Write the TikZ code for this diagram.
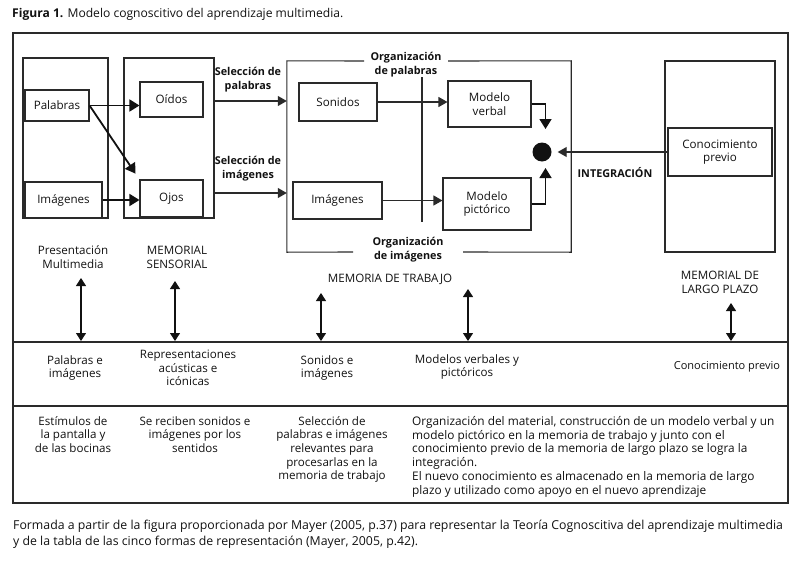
\documentclass[tikz,border=0pt]{standalone}
\usepackage{fontspec}
\setmainfont{Open Sans}
\usetikzlibrary{arrows.meta}
\definecolor{linec}{HTML}{2A2A2A}
\definecolor{txt}{HTML}{111111}
\begin{document}
\begin{tikzpicture}[x=1pt,y=-1pt,
  every node/.style={text=txt},
  box/.style={draw=linec, line width=1.1pt, inner sep=0pt, align=center, font=\fontsize{11.6}{13.5}\selectfont},
  lbl/.style={inner sep=0pt, align=center, font=\fontsize{11.6}{13.7}\selectfont},
  blbl/.style={lbl, font=\fontsize{10.8}{13.7}\selectfont\bfseries},
  thinline/.style={draw=linec, line width=1.1pt},
  thinarrow/.style={draw=linec, line width=1.1pt, -{Triangle[length=9pt,width=10pt]}},
  thickarrow/.style={draw=txt, line width=1.8pt, -{Triangle[length=10pt,width=12pt]}},
  dblarrow/.style={draw=txt, line width=1.1pt, {Triangle[length=8pt,width=10pt]}-{Triangle[length=8pt,width=10pt]}}
]
\useasboundingbox (0,0) rectangle (800,570);

% title
\node[anchor=base west, inner sep=0pt, font=\fontsize{12.1}{14}\selectfont] (title) at (12,17) {\textbf{Figura 1.} Modelo cognoscitivo del aprendizaje multimedia.};

% outer frame
\node[draw=linec, line width=1.7pt, minimum width=775pt, minimum height=470pt, inner sep=0pt] (frame) at (400.5,268) {};
\coordinate (h1) at (0,342);
\coordinate (h2) at (0,406);
\draw[thinline] (frame.west |- h1) -- (frame.east |- h1);
\draw[thinline] (frame.west |- h2) -- (frame.east |- h2);

% presentation multimedia
\node[box, minimum width=85pt, minimum height=160pt] (pm) at (65.5,138) {};
\node[box, minimum width=64pt, minimum height=31pt] (pal) at (57,105.5) {Palabras};
\node[box, minimum width=77pt, minimum height=36pt] (img1) at (63.5,200) {Imágenes};

% sensory memory
\node[box, minimum width=90pt, minimum height=160pt] (ms) at (169,138) {};
\node[box, minimum width=63pt, minimum height=35pt] (oid) at (171.5,99.5) {Oídos};
\node[box, minimum width=63pt, minimum height=37pt] (ojo) at (171.5,198.5) {Ojos};

\draw[thickarrow] (pal.east) -- (pal.east -| oid.west);
\draw[thickarrow, shorten >=7pt] (pal.east) -- (ojo.north west);
\draw[thickarrow] (img1.east) -- (img1.east -| ojo.west);

% working memory
\node[minimum width=284pt, minimum height=191pt, inner sep=0pt] (wm) at (429,156.5) {};
\draw[thinline] (364,61) -- (wm.north west) -- (wm.south west) -- (353,252);
\draw[thinline] (448,61) -- (wm.north east) -- (wm.south east) -- (463,252);
\node[blbl] (orgp) at (406,65) {Organización\\de palabras};
\node[blbl] (orgi) at (408,250) {Organización\\de imágenes};
\coordinate (vtop) at (422,77);
\coordinate (vbot) at (422,222);
\draw[thinline] (vtop) -- (vbot);

\node[box, minimum width=78pt, minimum height=38pt] (son) at (338,102) {Sonidos};
\node[box, minimum width=89pt, minimum height=37pt] (img2) at (337.5,200.5) {Imágenes};
\node[box, minimum width=83pt, minimum height=46pt] (mv) at (489.5,104) {Modelo\\verbal};
\node[box, minimum width=88pt, minimum height=52pt] (mp) at (487,204) {Modelo\\pictórico};
\draw[thinarrow] (son.east) -- (son.east -| mv.west);
\draw[thinarrow] (img2.east) -- (img2.east -| mp.west);

\node[circle, fill=txt, minimum size=19pt, inner sep=0pt] (dot) at (542,152) {};
\coordinate (vt) at (545.5,129);
\coordinate (pt) at (545.5,168);
\draw[thickarrow, line width=1.6pt] (mv.east) -| (vt);
\draw[thickarrow, line width=1.6pt] (mp.east) -| (pt);

% selection arrows
\node[blbl] (selp) at (248,80) {Selección de\\palabras};
\node[blbl] (seli) at (248,168.5) {Selección de\\imágenes};
\coordinate (s1a) at (215,101);
\coordinate (s2a) at (215,193);
\draw[thinarrow] (s1a) -- (s1a -| wm.west);
\draw[thinarrow] (s2a) -- (s2a -| wm.west);

% long-term memory
\node[box, minimum width=110pt, minimum height=191pt] (ltm) at (720,156.5) {};
\node[box, minimum width=104pt, minimum height=48pt] (cp) at (720,152) {Conocimiento\\previo};
\draw[thinarrow, shorten >=6pt] (cp.west) -- (dot.east);
\node[blbl] (integ) at (615,173) {INTEGRACIÓN};

% labels under boxes
\node[lbl] (lpm) at (73,257) {Presentación\\Multimedia};
\node[lbl] (lms) at (177,257) {MEMORIAL\\SENSORIAL};
\node[lbl] (lwm) at (390,279) {MEMORIA DE TRABAJO};
\node[lbl] (lltm) at (720,282) {MEMORIAL DE\\LARGO PLAZO};

% double arrows
\coordinate (a1t) at (81,278);  \coordinate (a1b) at (81,341);
\coordinate (a2t) at (175,281); \coordinate (a2b) at (175,341);
\coordinate (a3t) at (321,293); \coordinate (a3b) at (321,341);
\coordinate (a4t) at (468,289); \coordinate (a4b) at (468,341);
\coordinate (a5t) at (731,303); \coordinate (a5b) at (731,341);
\draw[dblarrow] (a1t) -- (a1b);
\draw[dblarrow] (a2t) -- (a2b);
\draw[dblarrow] (a3t) -- (a3b);
\draw[dblarrow] (a4t) -- (a4b);
\draw[dblarrow] (a5t) -- (a5b);

% row 2
\node[lbl] (r2a) at (75,368) {Palabras e\\imágenes};
\node[lbl] (r2b) at (188,368) {Representaciones\\acústicas e\\icónicas};
\node[lbl] (r2c) at (327,368) {Sonidos e\\imágenes};
\node[lbl] (r2d) at (467,367) {Modelos verbales y\\pictóricos};
\node[lbl, font=\fontsize{11}{13.7}\selectfont] (r2e) at (727,367) {Conocimiento previo};

% row 3
\node[lbl, anchor=north] (r3a) at (73,416) {Estímulos de\\la pantalla y\\de las bocinas};
\node[lbl, anchor=north] (r3b) at (195,416) {Se reciben sonidos e\\imágenes por los\\sentidos};
\node[lbl, anchor=north] (r3c) at (332,416) {Selección de\\palabras e imágenes\\relevantes para\\procesarlas en la\\memoria de trabajo};
\node[lbl, anchor=north west, align=left, font=\fontsize{11.85}{13.8}\selectfont] (r3d) at (412,416) {Organización del material, construcción de un modelo verbal y un\\modelo pictórico en la memoria de trabajo y junto con el\\conocimiento previo de la memoria de largo plazo se logra la\\integración.\\El nuevo conocimiento es almacenado en la memoria de largo\\plazo y utilizado como apoyo en el nuevo aprendizaje};

% caption
\node[anchor=base west, inner sep=0pt, align=left, font=\fontsize{12.3}{15.5}\selectfont] (cap) at (13,545) {Formada a partir de la figura proporcionada por Mayer (2005, p.37) para representar la Teoría Cognoscitiva del aprendizaje multimedia\\y de la tabla de las cinco formas de representación (Mayer, 2005, p.42).};
\end{tikzpicture}
\end{document}
